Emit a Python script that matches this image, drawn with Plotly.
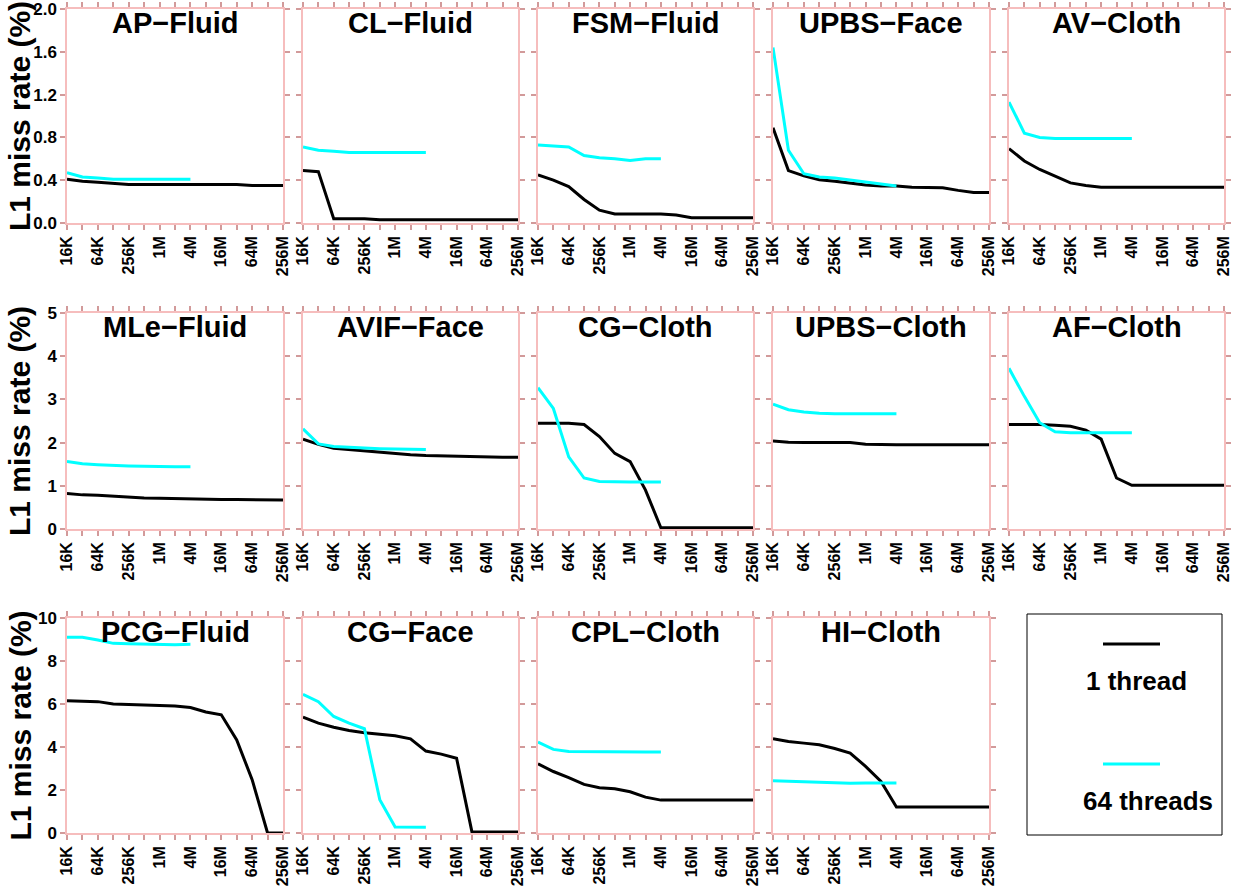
import plotly.graph_objects as go

W, H = 1234, 891

sizes = ["16K", "32K", "64K", "128K", "256K", "512K", "1M", "2M", "4M",
         "8M", "16M", "32M", "64M", "128M", "256M"]
tick_labels = [s if i % 2 == 0 else "" for i, s in enumerate(sizes)]

panel_names = [
    "AP−Fluid", "CL−Fluid", "FSM−Fluid", "UPBS−Face", "AV−Cloth",
    "MLe−Fluid", "AVIF−Face", "CG−Cloth", "UPBS−Cloth", "AF−Cloth",
    "PCG−Fluid", "CG−Face", "CPL−Cloth", "HI−Cloth",
]

# 1 thread (all 15 sizes)
ap_fluid_1 = [0.41, 0.39, 0.38, 0.37, 0.36, 0.36, 0.36, 0.36, 0.36, 0.36, 0.36, 0.36, 0.35, 0.35, 0.35]
cl_fluid_1 = [0.49, 0.48, 0.04, 0.04, 0.04, 0.03, 0.03, 0.03, 0.03, 0.03, 0.03, 0.03, 0.03, 0.03, 0.03]
fsm_fluid_1 = [0.45, 0.40, 0.34, 0.22, 0.12, 0.085, 0.085, 0.085, 0.085, 0.075, 0.05, 0.05, 0.05, 0.05, 0.05]
upbs_face_1 = [0.89, 0.49, 0.44, 0.405, 0.39, 0.37, 0.355, 0.345, 0.345, 0.335, 0.335, 0.33, 0.305, 0.285, 0.285]
av_cloth_1 = [0.695, 0.58, 0.50, 0.44, 0.375, 0.35, 0.335, 0.335, 0.335, 0.335, 0.335, 0.335, 0.335, 0.335, 0.335]
mle_fluid_1 = [0.82, 0.79, 0.78, 0.76, 0.73, 0.72, 0.71, 0.70, 0.70, 0.69, 0.68, 0.68, 0.68, 0.67, 0.67]
avif_face_1 = [2.08, 1.96, 1.87, 1.84, 1.80, 1.77, 1.75, 1.72, 1.70, 1.69, 1.68, 1.67, 1.66, 1.66, 1.66]
cg_cloth_1 = [2.45, 2.45, 2.45, 2.42, 2.14, 1.75, 1.56, 0.90, 0.03, 0.03, 0.03, 0.03, 0.03, 0.03, 0.03]
upbs_cloth_1 = [2.04, 2.01, 2.00, 2.00, 2.00, 2.00, 1.96, 1.95, 1.95, 1.95, 1.95, 1.95, 1.95, 1.95, 1.95]
af_cloth_1 = [2.42, 2.42, 2.42, 2.40, 2.38, 2.29, 2.08, 1.18, 1.01, 1.01, 1.01, 1.01, 1.01, 1.01, 1.01]
pcg_fluid_1 = [6.15, 6.14, 6.11, 6.00, 5.98, 5.95, 5.93, 5.91, 5.84, 5.63, 5.50, 4.33, 2.48, 0.0, 0.0]
cg_face_1 = [5.39, 5.11, 4.92, 4.77, 4.66, 4.60, 4.52, 4.38, 3.81, 3.67, 3.48, 0.05, 0.05, 0.05, 0.05]
cpl_cloth_1 = [3.22, 2.86, 2.58, 2.26, 2.11, 2.06, 1.92, 1.67, 1.53, 1.53, 1.53, 1.53, 1.53, 1.53, 1.53]
hi_cloth_1 = [4.38, 4.26, 4.18, 4.10, 3.93, 3.72, 3.10, 2.40, 1.21, 1.21, 1.21, 1.21, 1.21, 1.21, 1.21]

# 64 threads (16K .. 4M)
ap_fluid_64 = [0.47, 0.43, 0.42, 0.41, 0.41, 0.41, 0.41, 0.41, 0.41]
cl_fluid_64 = [0.71, 0.68, 0.67, 0.66, 0.66, 0.66, 0.66, 0.66, 0.66]
fsm_fluid_64 = [0.73, 0.72, 0.71, 0.63, 0.61, 0.60, 0.585, 0.60, 0.60]
upbs_face_64 = [1.64, 0.68, 0.46, 0.43, 0.42, 0.40, 0.38, 0.36, 0.345]
av_cloth_64 = [1.13, 0.84, 0.80, 0.79, 0.79, 0.79, 0.79, 0.79, 0.79]
mle_fluid_64 = [1.56, 1.51, 1.49, 1.47, 1.46, 1.45, 1.44, 1.44, 1.44]
avif_face_64 = [2.32, 1.97, 1.91, 1.89, 1.88, 1.86, 1.85, 1.84, 1.84]
cg_cloth_64 = [3.27, 2.79, 1.67, 1.18, 1.10, 1.09, 1.09, 1.09, 1.09]
upbs_cloth_64 = [2.89, 2.76, 2.71, 2.68, 2.67, 2.67, 2.67, 2.67, 2.67]
af_cloth_64 = [3.72, 3.07, 2.46, 2.25, 2.23, 2.23, 2.23, 2.23, 2.23]
pcg_fluid_64 = [9.10, 9.10, 8.98, 8.82, 8.80, 8.78, 8.76, 8.76, 8.78]
cg_face_64 = [6.45, 6.11, 5.42, 5.11, 4.85, 1.55, 0.28, 0.27, 0.27]
cpl_cloth_64 = [4.23, 3.89, 3.79, 3.78, 3.77, 3.77, 3.77, 3.77, 3.77]
hi_cloth_64 = [2.43, 2.40, 2.37, 2.34, 2.33, 2.31, 2.32, 2.33, 2.33]

one_thread = [ap_fluid_1, cl_fluid_1, fsm_fluid_1, upbs_face_1, av_cloth_1,
              mle_fluid_1, avif_face_1, cg_cloth_1, upbs_cloth_1, af_cloth_1,
              pcg_fluid_1, cg_face_1, cpl_cloth_1, hi_cloth_1]
sixty_four = [ap_fluid_64, cl_fluid_64, fsm_fluid_64, upbs_face_64, av_cloth_64,
              mle_fluid_64, avif_face_64, cg_cloth_64, upbs_cloth_64, af_cloth_64,
              pcg_fluid_64, cg_face_64, cpl_cloth_64, hi_cloth_64]

row_ranges = [[0, 2.0], [0, 5], [0, 10]]
row_ticks = [
    ([0, 0.4, 0.8, 1.2, 1.6, 2.0], ["0.0", "0.4", "0.8", "1.2", "1.6", "2.0"]),
    ([0, 1, 2, 3, 4, 5], ["0", "1", "2", "3", "4", "5"]),
    ([0, 2, 4, 6, 8, 10], ["0", "2", "4", "6", "8", "10"]),
]
y_legend_title = "L1 miss rate (%)"
legend_names = ["1 thread", "64 threads"]

FONT = "Liberation Sans, Arial, sans-serif"
FRAME = "#F6BDBD"
TICKC = "#D29A9A"

col_px = [(67, 283), (303, 518), (538, 753), (773, 989), (1009, 1224)]
row_px = [(9, 223), (313, 529), (618, 833)]

fig = go.Figure()
layout = {}
annotations = []

for i, name in enumerate(panel_names):
    r, c = divmod(i, 5)
    idx = i + 1
    xa = "x" if idx == 1 else f"x{idx}"
    ya = "y" if idx == 1 else f"y{idx}"
    xkey = "xaxis" if idx == 1 else f"xaxis{idx}"
    ykey = "yaxis" if idx == 1 else f"yaxis{idx}"

    fig.add_trace(go.Scatter(x=sizes, y=one_thread[i], mode="lines",
                             line=dict(color="black", width=3),
                             xaxis=xa, yaxis=ya, showlegend=False,
                             name=legend_names[0]))
    fig.add_trace(go.Scatter(x=sizes[:len(sixty_four[i])], y=sixty_four[i], mode="lines",
                             line=dict(color="#00FFFF", width=3),
                             xaxis=xa, yaxis=ya, showlegend=False,
                             name=legend_names[1]))

    x0, x1 = col_px[c]
    y0, y1 = row_px[r]
    layout[xkey] = dict(
        domain=[x0 / W, x1 / W], anchor=ya, type="category",
        categoryorder="array", categoryarray=sizes,
        range=[0, len(sizes) - 1],
        tickmode="array", tickvals=sizes, ticktext=tick_labels,
        tickangle=-90, ticks="outside", ticklen=5, tickwidth=1.5, tickcolor=TICKC,
        showline=True, linecolor=FRAME, linewidth=1.5, mirror="ticks",
        showgrid=False, zeroline=False, automargin=False,
        ticklabeloverflow="allow",
        tickfont=dict(family=FONT, size=16, color="black", weight="bold"),
    )
    tv, tt = row_ticks[r]
    layout[ykey] = dict(
        domain=[1 - y1 / H, 1 - y0 / H], anchor=xa,
        range=row_ranges[r], tickmode="array", tickvals=tv, ticktext=tt,
        showticklabels=(c == 0),
        ticks="outside", ticklen=5, tickwidth=1.5, tickcolor=TICKC,
        showline=True, linecolor=FRAME, linewidth=1.5, mirror="ticks",
        showgrid=False, zeroline=False, automargin=False,
        ticklabeloverflow="allow",
        tickfont=dict(family=FONT, size=17, color="black", weight="bold"),
    )
    annotations.append(dict(
        text=f"<b>{name}</b>", x=(x0 + x1) / 2 / W, y=1 - (y0 - 4) / H,
        xref="paper", yref="paper", xanchor="center", yanchor="top",
        showarrow=False, font=dict(family=FONT, size=29, color="black"),
    ))

for r in range(3):
    y0, y1 = row_px[r]
    annotations.append(dict(
        text=f"<b>{y_legend_title}</b>", x=20 / W, y=1 - (y0 + y1) / 2 / H,
        xref="paper", yref="paper", xanchor="center", yanchor="middle",
        textangle=-90, showarrow=False,
        font=dict(family=FONT, size=30, color="black"),
    ))

# legend box
shapes = [
    dict(type="rect", xref="paper", yref="paper",
         x0=1027 / W, x1=1222 / W, y0=1 - 835 / H, y1=1 - 614 / H,
         line=dict(color="black", width=1), fillcolor="white"),
    dict(type="line", xref="paper", yref="paper",
         x0=1103 / W, x1=1160 / W, y0=1 - 644 / H, y1=1 - 644 / H,
         line=dict(color="black", width=3)),
    dict(type="line", xref="paper", yref="paper",
         x0=1103 / W, x1=1160 / W, y0=1 - 764 / H, y1=1 - 764 / H,
         line=dict(color="#00FFFF", width=3)),
]
annotations.append(dict(text=f"<b>{legend_names[0]}</b>", x=1136 / W, y=1 - 681 / H,
                        xref="paper", yref="paper", xanchor="center", yanchor="middle",
                        showarrow=False, font=dict(family=FONT, size=26, color="black")))
annotations.append(dict(text=f"<b>{legend_names[1]}</b>", x=1148 / W, y=1 - 801 / H,
                        xref="paper", yref="paper", xanchor="center", yanchor="middle",
                        showarrow=False, font=dict(family=FONT, size=26, color="black")))

fig.update_layout(
    width=W, height=H, margin=dict(l=0, r=0, t=0, b=0, autoexpand=False),
    paper_bgcolor="white", plot_bgcolor="white",
    annotations=annotations, shapes=shapes, showlegend=False,
    **layout,
)

fig.write_html(
    "out.html",
    config={"displayModeBar": False},
    post_script="document.body.style.margin='0';document.body.style.overflow='hidden';",
)
